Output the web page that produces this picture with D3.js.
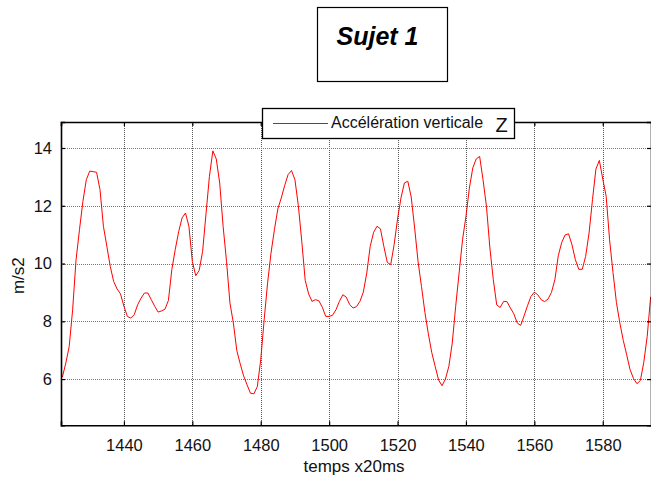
<!DOCTYPE html>
<html>
<head>
<meta charset="utf-8">
<script src="https://cdn.jsdelivr.net/npm/d3@7"></script>
<style>
  html, body { margin: 0; padding: 0; background: #fff; }
  svg { display: block; font-family: "Liberation Sans", Arial, sans-serif; }
</style>
</head>
<body>
<script>
// Vertical acceleration, one sample per 20 ms step
const startIndex = 1422;
const accel = [
  6.07, 6.55, 7.13, 8.4, 10.13, 11.17, 12.15, 12.9, 13.2, 13.18,
  13.16, 12.56, 11.29, 10.6, 9.9, 9.38, 9.12, 8.95, 8.52, 8.17,
  8.11, 8.23, 8.57, 8.8, 8.98, 8.98, 8.75, 8.52, 8.32, 8.36,
  8.42, 8.72, 9.79, 10.48, 11.1, 11.58, 11.75, 11.29, 10.07, 9.58,
  9.76, 10.42, 11.72, 13.02, 13.9, 13.62, 12.79, 11.29, 10.07, 8.63,
  7.94, 6.99, 6.53, 6.11, 5.8, 5.51, 5.49, 5.74, 6.67, 8.05,
  9.32, 10.36, 11.17, 11.89, 12.27, 12.7, 13.08, 13.22, 12.9, 12.0,
  10.77, 9.42, 8.95, 8.69, 8.75, 8.71, 8.49, 8.17, 8.17, 8.21,
  8.4, 8.69, 8.92, 8.84, 8.58, 8.46, 8.51, 8.69, 9.01, 9.67,
  10.59, 11.08, 11.29, 11.2, 10.59, 10.04, 9.96, 10.65, 11.54, 12.27,
  12.79, 12.85, 12.3, 11.23, 10.07, 9.21, 8.31, 7.57, 6.92, 6.44,
  5.97, 5.77, 6.0, 6.44, 7.25, 8.52, 9.67, 10.82, 11.63, 12.61,
  13.31, 13.62, 13.71, 12.9, 11.98, 10.54, 9.44, 8.57, 8.48, 8.69,
  8.68, 8.46, 8.26, 7.94, 7.86, 8.19, 8.54, 8.86, 9.01, 8.92,
  8.75, 8.68, 8.77, 9.0, 9.44, 10.27, 10.73, 10.99, 11.03, 10.65,
  10.13, 9.8, 9.8, 10.25, 11.06, 12.21, 13.27, 13.57, 12.93, 12.33,
  10.82, 9.69, 8.65, 7.94, 7.34, 6.84, 6.32, 6.02, 5.84, 5.95,
  6.58, 7.48, 8.85
];
const xTicks = [1440, 1460, 1480, 1500, 1520, 1540, 1560, 1580];
const yTicks = [6, 8, 10, 12, 14];
const titleText = "Sujet 1";
const legendText = "Accélération verticale";
const legendSuffix = "Z";
const xLabel = "temps x20ms";
const yLabel = "m/s2";

const points = accel.map((v, i) => ({ t: startIndex + i, v }));

const W = 651, H = 480;
const plot = { left: 61, right: 652, top: 122, bottom: 425.3 };

const svg = d3.select("body").append("svg")
  .attr("width", W).attr("height", H);
svg.append("rect").attr("width", W).attr("height", H).attr("fill", "#fff");

const x = d3.scaleLinear().domain([1421.6, 1594.4]).range([plot.left, plot.right]);
const y = d3.scaleLinear().domain([4.4, 14.9]).range([plot.bottom, plot.top]);

// Dotted grid
const grid = svg.append("g");
grid.selectAll("line.gx").data(xTicks).join("line")
  .attr("x1", d => Math.round(x(d)) + 0.5).attr("x2", d => Math.round(x(d)) + 0.5)
  .attr("y1", plot.top).attr("y2", plot.bottom)
  .attr("stroke", "#555").attr("stroke-width", 1).attr("stroke-dasharray", "1,1");
grid.selectAll("line.gy").data(yTicks).join("line")
  .attr("y1", d => Math.round(y(d)) + 0.5).attr("y2", d => Math.round(y(d)) + 0.5)
  .attr("x1", plot.left).attr("x2", plot.right)
  .attr("stroke", "#777").attr("stroke-width", 1.2).attr("stroke-dasharray", "1,1");

// Data line
svg.append("path").datum(points)
  .attr("fill", "none").attr("stroke", "#ff0000").attr("stroke-width", 1)
  .attr("d", d3.line().x(d => x(d.t)).y(d => y(d.v)));

// Axes (ticks pointing inward, MATLAB style)
const fontTick = 16.5;
const xAxis = svg.append("g").attr("transform", `translate(0,${plot.bottom})`)
  .call(d3.axisBottom(x).tickValues(xTicks).tickSize(-4).tickPadding(14).tickFormat(d3.format("d")));
const xAxisTop = svg.append("g").attr("transform", `translate(0,${plot.top})`)
  .call(d3.axisTop(x).tickValues(xTicks).tickSize(-4).tickFormat(""));
const yAxis = svg.append("g").attr("transform", `translate(${plot.left},0)`)
  .call(d3.axisLeft(y).tickValues(yTicks).tickSize(-4).tickPadding(9).tickFormat(d3.format("d")));
const yAxisRight = svg.append("g").attr("transform", `translate(${plot.right - 1},0)`)
  .call(d3.axisRight(y).tickValues(yTicks).tickSize(-4).tickFormat(""));

[xAxis, xAxisTop, yAxis, yAxisRight].forEach(g => {
  g.select(".domain").attr("stroke", "#000").attr("stroke-width", 1.6);
  g.selectAll(".tick line").attr("stroke", "#000").attr("stroke-width", 1.2);
  g.selectAll(".tick text").attr("fill", "#111")
    .attr("font-family", "Liberation Sans, Arial, sans-serif").attr("font-size", fontTick);
});

// Axis titles
svg.append("text").attr("x", 354).attr("y", 472)
  .attr("text-anchor", "middle").attr("font-size", 17).attr("fill", "#111")
  .text(xLabel);
svg.append("text").attr("transform", `translate(24,${(plot.top + plot.bottom) / 2 + 2}) rotate(-90)`)
  .attr("text-anchor", "middle").attr("font-size", 17).attr("fill", "#111")
  .text(yLabel);

// Legend
const lg = svg.append("g");
lg.append("rect").attr("x", 262.5).attr("y", 108.5).attr("width", 252).attr("height", 30)
  .attr("fill", "#fff").attr("stroke", "#000").attr("stroke-width", 1.3);
lg.append("line").attr("x1", 273).attr("x2", 328).attr("y1", 123.5).attr("y2", 123.5)
  .attr("stroke", "#ff0000").attr("stroke-width", 1);
lg.append("text").attr("x", 331).attr("y", 127.5).attr("font-size", 16).attr("fill", "#111")
  .text(legendText);
lg.append("text").attr("x", 501.5).attr("y", 131.7).attr("text-anchor", "middle")
  .attr("font-size", 20).attr("fill", "#111").text(legendSuffix);

// Title box
const tb = svg.append("g");
tb.append("rect").attr("x", 317.5).attr("y", 7.5).attr("width", 130).attr("height", 74)
  .attr("fill", "#fff").attr("stroke", "#000").attr("stroke-width", 1.2);
tb.append("text").attr("x", 377.5).attr("y", 45).attr("text-anchor", "middle")
  .attr("font-size", 25).attr("font-weight", "bold").attr("font-style", "italic")
  .attr("fill", "#000").text(titleText);
</script>
</body>
</html>
